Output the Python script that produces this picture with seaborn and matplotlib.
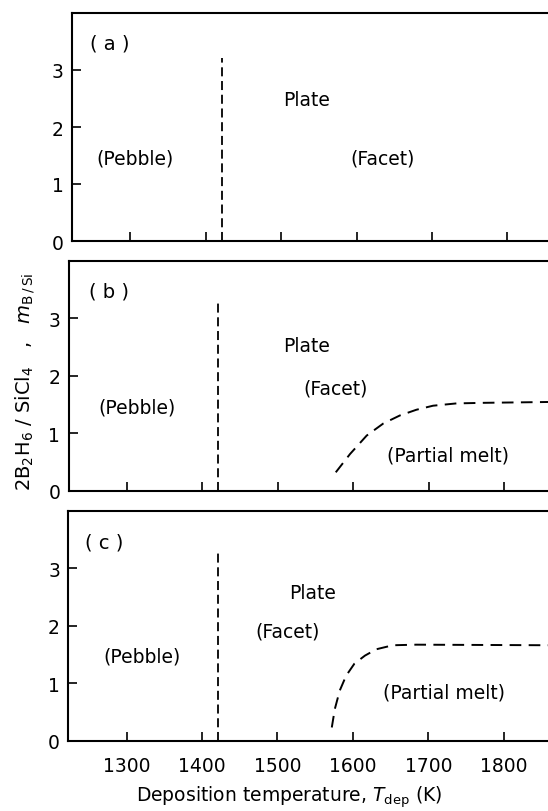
import matplotlib
matplotlib.use("Agg")
import matplotlib.pyplot as plt
import seaborn as sns
import pandas as pd

sns.set_style("ticks")
plt.rcParams["font.family"] = ["DejaVu Sans"]
plt.rcParams["mathtext.fontset"] = "dejavusans"
plt.rcParams["text.color"] = "black"
plt.rcParams["axes.labelcolor"] = "black"
plt.rcParams["xtick.color"] = "black"
plt.rcParams["ytick.color"] = "black"

# ---- data -------------------------------------------------------------
panel_tags = ["( a )", "( b )", "( c )"]
x_ticks = [1300, 1400, 1500, 1600, 1700, 1800]
y_ticks = [0, 1, 2, 3]

# pebble / plate boundary (vertical dashed line) and its upper end per panel
boundary_T = 1421
boundary_top = [3.21, 3.29, 3.34]

# partial-melt boundary, panel (b)
melt_b_T = [1577, 1596, 1618, 1640, 1662, 1684, 1706, 1737, 1772, 1860]
melt_b_y = [0.32, 0.64, 0.96, 1.17, 1.31, 1.41, 1.48, 1.52, 1.53, 1.545]
# partial-melt boundary, panel (c)
melt_c_T = [1572, 1576, 1582.5, 1591, 1602, 1616, 1631, 1653, 1684, 1860]
melt_c_y = [0.23, 0.55, 0.87, 1.13, 1.34, 1.48, 1.59, 1.66, 1.67, 1.66]

# region labels: (text, T, ratio) per panel
region_labels = [
    [("Plate", 1533, 2.48), ("(Pebble)", 1306, 1.46), ("(Facet)", 1634, 1.46)],
    [("Plate", 1538, 2.52), ("(Facet)", 1577, 1.78), ("(Pebble)", 1314, 1.45),
     ("(Partial melt)", 1726, 0.63)],
    [("Plate", 1546, 2.57), ("(Facet)", 1514, 1.90), ("(Pebble)", 1320, 1.48),
     ("(Partial melt)", 1721, 0.84)],
]
tag_pos = [(1273, 3.47), (1276, 3.47), (1270, 3.46)]

melt_curves = [None,
               pd.DataFrame({"T": melt_b_T, "m": melt_b_y}),
               pd.DataFrame({"T": melt_c_T, "m": melt_c_y})]

# ---- figure -----------------------------------------------------------
W, H = 548, 812
fig = plt.figure(figsize=(W / 100, H / 100), dpi=100)

# axes boxes in pixels: (left, top, bottom)
boxes = [(72.0, 14.0, 242.0), (68.5, 262.0, 491.7), (68.3, 511.7, 741.7)]
xlim = (1222.6, 1858.7)

axes = []
for i, (left, top, bottom) in enumerate(boxes):
    ax = fig.add_axes([left / W, 1 - bottom / H, (W - 68.3) / W, (bottom - top) / H])
    axes.append(ax)
    ax.set_xlim(*xlim)
    ax.set_ylim(0, 4)
    ax.set_xticks(x_ticks)
    ax.set_yticks(y_ticks)
    ax.tick_params(direction="in", length=6.5, width=1.2, labelsize=13.5,
                   color="black", labelcolor="black")
    ax.tick_params(axis="x", pad=11)
    ax.tick_params(axis="y", pad=6)
    if i < 2:
        ax.tick_params(axis="x", labelbottom=False)
    for side in ["left", "bottom", "top"]:
        ax.spines[side].set_linewidth(1.5)
        ax.spines[side].set_color("black")
    ax.spines["right"].set_visible(False)

    # pebble / plate boundary
    vline = pd.DataFrame({"T": [boundary_T, boundary_T], "m": [0, boundary_top[i]]})
    sns.lineplot(data=vline, x="T", y="m", ax=ax, color="black", linewidth=1.3,
                 linestyle=(0, (5.0, 2.6)), sort=False, estimator=None)

    # partial-melt boundary
    if melt_curves[i] is not None:
        sns.lineplot(data=melt_curves[i], x="T", y="m", ax=ax, color="black",
                     linewidth=1.4, linestyle=(0, (6.0, 3.8)), sort=False,
                     estimator=None)

    ax.set_xlabel("")
    ax.set_ylabel("")

    tx, ty = tag_pos[i]
    ax.text(tx, ty, panel_tags[i], fontsize=14, ha="center", va="center")
    for text, T, m in region_labels[i]:
        ax.text(T, m, text, fontsize=13.5, ha="center", va="center")

fig.text(288.7 / W, 1 - 797 / H,
         r"Deposition temperature, $T_{\mathrm{dep}}$ (K)",
         fontsize=13.5, ha="center", va="center")
fig.text(25 / W, 1 - 382 / H,
         r"2B$_2$H$_6$ / SiCl$_4$   ,   $m_{\mathrm{B\,/\,Si}}$",
         fontsize=14, ha="center", va="center", rotation=90)

fig.savefig("out.png", dpi=100)
